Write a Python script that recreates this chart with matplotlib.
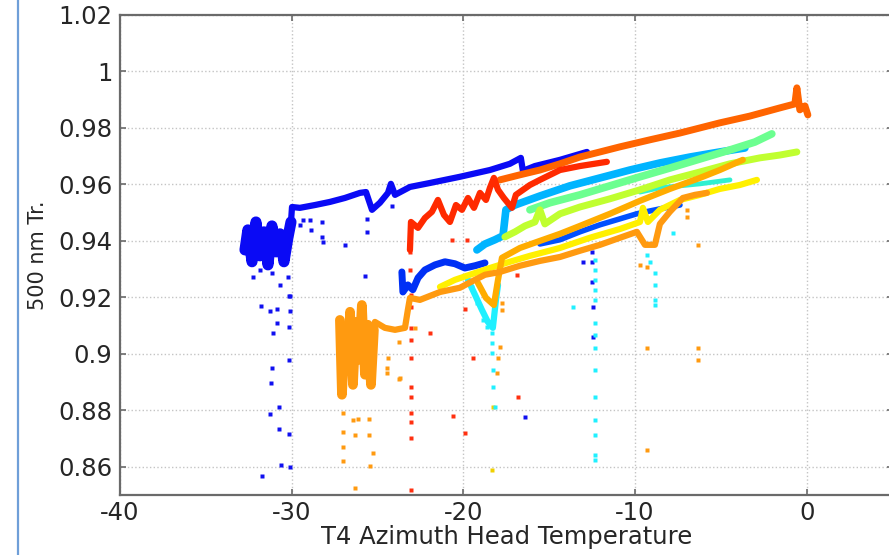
import matplotlib
matplotlib.use("Agg")
import matplotlib.pyplot as plt
from matplotlib.lines import Line2D

plt.rcParams['font.family'] = 'DejaVu Sans'
plt.rcParams['axes.unicode_minus'] = False

# ---- tracks (temperature, 500 nm transmittance) ----
blue_blob_x = [-32.72, -32.55, -32.31, -32.08, -31.85, -31.61, -31.38, -31.15, -30.91, -30.68, -30.45, -30.22, -30.04]
blue_blob_y = [0.9368, 0.9439, 0.9326, 0.9467, 0.9347, 0.9432, 0.9315, 0.9453, 0.9361, 0.9425, 0.9326, 0.9411, 0.9467]

blue_top_x = [-30.04, -29.98, -29.52, -28.64, -27.77, -26.90, -26.02, -25.67, -25.32, -24.86, -24.39, -24.22, -23.98,
              -23.11, -21.95, -20.20, -18.45, -17.29, -16.65, -16.53, -15.83, -14.37, -12.80]
blue_top_y = [0.9467, 0.9520, 0.9517, 0.9527, 0.9538, 0.9552, 0.9570, 0.9573, 0.9510, 0.9535, 0.9570, 0.9602, 0.9563,
              0.9591, 0.9605, 0.9627, 0.9651, 0.9673, 0.9694, 0.9648, 0.9665, 0.9687, 0.9715]

blue_low_x = [-23.58, -23.52, -23.23, -22.94, -22.64, -22.24, -21.65, -21.07, -20.49, -19.91, -19.32, -18.74]
blue_low_y = [0.9290, 0.9219, 0.9244, 0.9227, 0.9269, 0.9297, 0.9315, 0.9326, 0.9319, 0.9304, 0.9312, 0.9322]

blue_mid_x = [-15.54, -14.37, -13.21, -12.04, -10.88, -9.89, -9.13, -8.26, -7.38]
blue_mid_y = [0.9389, 0.9404, 0.9432, 0.9457, 0.9478, 0.9496, 0.9506, 0.9517, 0.9527]

lblue_x = [-19.21, -18.74, -18.16, -17.69, -17.52, -16.99, -15.54, -13.79, -12.04, -10.30, -8.55, -6.80, -5.06, -3.60]
lblue_y = [0.9368, 0.9389, 0.9404, 0.9418, 0.9510, 0.9527, 0.9559, 0.9595, 0.9623, 0.9651, 0.9676, 0.9697, 0.9715, 0.9729]

cyan_x = [-19.73, -19.32, -18.92, -18.57, -18.28, -18.10, -17.98]
cyan_y = [0.9262, 0.9209, 0.9156, 0.9113, 0.9092, 0.9191, 0.9244]

aqua_x = [-9.71, -8.55, -7.38, -6.22, -4.47]
aqua_y = [0.9573, 0.9588, 0.9595, 0.9602, 0.9616]

green_x = [-16.12, -14.96, -13.21, -11.46, -9.71, -7.97, -6.22, -4.47, -3.02, -2.03]
green_y = [0.9510, 0.9535, 0.9563, 0.9595, 0.9627, 0.9658, 0.9690, 0.9722, 0.9750, 0.9779]

ygreen_x = [-17.58, -16.99, -16.41, -15.83, -15.54, -15.25, -14.37, -13.21, -11.46, -9.71, -7.97, -6.22, -4.47,
            -2.73, -1.56, -0.57]
ygreen_y = [0.9414, 0.9432, 0.9453, 0.9467, 0.9510, 0.9460, 0.9496, 0.9520, 0.9549, 0.9581, 0.9616, 0.9644, 0.9673,
            0.9694, 0.9704, 0.9715]

yellow_x = [-21.36, -20.49, -19.62, -18.45, -17.29, -16.12, -14.37, -12.63, -10.88, -9.71, -9.54, -9.25, -8.55,
            -7.38, -6.22, -5.06, -3.89, -2.90]
yellow_y = [0.9237, 0.9262, 0.9280, 0.9304, 0.9326, 0.9347, 0.9375, 0.9411, 0.9442, 0.9467, 0.9517, 0.9467, 0.9510,
            0.9545, 0.9563, 0.9584, 0.9598, 0.9616]

lorange_x = [-19.15, -18.68, -18.22, -17.98, -17.75, -16.70, -15.54, -14.37, -13.21, -11.46, -9.71, -7.97, -6.22,
             -5.06, -3.72]
lorange_y = [0.9251, 0.9198, 0.9173, 0.9262, 0.9340, 0.9375, 0.9400, 0.9425, 0.9453, 0.9496, 0.9542, 0.9584, 0.9623,
             0.9651, 0.9687]

orange_blob_x = [-27.19, -27.07, -26.90, -26.72, -26.60, -26.43, -26.26, -26.08, -25.91, -25.73, -25.56, -25.38, -25.21]
orange_blob_y = [0.9120, 0.8855, 0.9085, 0.8943, 0.9149, 0.8890, 0.9113, 0.8979, 0.9173, 0.8926, 0.9103, 0.8890, 0.9085]

orange_x = [-25.21, -25.15, -24.57, -23.98, -23.40, -23.23, -23.11, -22.53, -21.36, -20.20, -19.32, -18.74,
            -17.87, -16.70, -15.54, -14.37, -13.21, -12.04, -10.88, -9.89, -9.42, -8.84, -8.55, -7.97, -7.21, -6.51, -5.81]
orange_y = [0.9085, 0.9113, 0.9092, 0.9085, 0.9092, 0.9156, 0.9198, 0.9191, 0.9219, 0.9234, 0.9262, 0.9280,
            0.9290, 0.9312, 0.9329, 0.9343, 0.9365, 0.9386, 0.9411, 0.9432, 0.9386, 0.9386, 0.9460, 0.9503, 0.9552,
            0.9563, 0.9570]

ored_x = [-17.87, -16.70, -15.54, -14.37, -13.21, -12.04, -10.88, -9.13, -7.38, -6.22, -5.06, -3.31, -1.56, -0.69,
          -0.57, -0.40, -0.10, 0.07]
ored_y = [0.9616, 0.9634, 0.9651, 0.9673, 0.9697, 0.9715, 0.9733, 0.9758, 0.9782, 0.9800, 0.9818, 0.9842, 0.9871,
          0.9885, 0.9942, 0.9864, 0.9878, 0.9846]

red_x = [-23.11, -23.05, -22.64, -22.24, -21.83, -21.48, -21.13, -20.78, -20.43, -20.08, -19.73, -19.38, -19.03,
         -18.68, -18.45, -18.22, -17.98, -17.64, -17.17, -16.94, -16.12, -15.54, -14.37, -13.21, -11.64]
red_y = [0.9368, 0.9467, 0.9446, 0.9481, 0.9503, 0.9545, 0.9492, 0.9467, 0.9527, 0.9510, 0.9552, 0.9517, 0.9570,
         0.9545, 0.9588, 0.9623, 0.9581, 0.9552, 0.9517, 0.9563, 0.9598, 0.9616, 0.9651, 0.9665, 0.9680]

# ---- stray samples ----
blue_pts_x = [-31.79, -31.26, -30.86, -30.10, -30.86, -31.09, -30.16, -30.16, -30.16, -31.15, -31.21, -30.74, -31.26,
              -30.74, -30.16, -30.62, -30.10, -31.73, -25.73, -25.73, -16.41, -29.34, -28.93, -29.52, -28.24, -28.88,
              -28.24, -28.18, -26.90, -25.61, -25.61, -24.16, -32.25, -31.85, -31.15, -30.68, -30.22, -30.10,
              -12.51, -12.51, -12.51, -12.45, -12.45, -13.03]
blue_pts_y = [0.9170, 0.9152, 0.9159, 0.9152, 0.9110, 0.9074, 0.9096, 0.9205, 0.8979, 0.8950, 0.8897, 0.8812, 0.8788,
              0.8735, 0.8717, 0.8607, 0.8600, 0.8568, 0.9000, 0.9276, 0.8777, 0.9474, 0.9474, 0.9457, 0.9467, 0.9439,
              0.9414, 0.9396, 0.9386, 0.9478, 0.9432, 0.9524, 0.9273, 0.9297, 0.9287, 0.9244, 0.9273, 0.9205,
              0.9361, 0.9326, 0.9255, 0.9166, 0.9060, 0.9326]

red_pts_x = [-23.11, -23.11, -23.11, -23.05, -23.05, -23.05, -23.05, -23.05, -23.05, -23.05, -23.05, -23.05, -23.05,
             -23.05, -21.95, -20.66, -19.79, -19.44, -19.91, -20.61, -19.91, -16.82, -16.88]
red_pts_y = [0.9386, 0.9361, 0.9297, 0.9209, 0.9166, 0.9092, 0.9050, 0.8986, 0.8883, 0.8848, 0.8791, 0.8759, 0.8703,
             0.8519, 0.9074, 0.9404, 0.9404, 0.8986, 0.9159, 0.8781, 0.8720, 0.8848, 0.9280]

orange_pts_x = [-27.01, -26.43, -26.14, -25.50, -27.01, -26.31, -25.50, -27.01, -25.26, -27.01, -25.44, -26.31,
                -24.39, -24.45, -24.45, -23.75, -23.75, -22.82, -23.69, -17.87, -17.98, -18.04, -17.75, -17.75,
                -9.31, -9.31, -9.71, -9.31, -6.34, -6.34, -6.98, -6.98, -6.34]
orange_pts_y = [0.8791, 0.8766, 0.8770, 0.8770, 0.8724, 0.8713, 0.8713, 0.8671, 0.8650, 0.8621, 0.8604, 0.8526,
                0.8986, 0.8950, 0.8933, 0.8912, 0.9042, 0.9092, 0.8915, 0.9025, 0.8986, 0.8933, 0.9181, 0.9156,
                0.9021, 0.8660, 0.9315, 0.9308, 0.9021, 0.8979, 0.9510, 0.9485, 0.9386]

yellow_pts_x = [-18.28, -18.33]
yellow_pts_y = [0.8812, 0.8589]

cyan_pts_x = [-19.50, -19.21, -18.86, -18.63, -18.33, -18.33, -18.33, -18.28, -18.28, -18.16,
              -12.34, -12.34, -12.34, -12.34, -12.34, -12.34, -12.34, -12.34, -12.34, -12.34, -12.34, -12.34,
              -12.34, -12.34, -13.62, -8.84, -8.84, -8.84, -8.84, -9.31, -9.13, -7.79]
cyan_pts_y = [0.9237, 0.9181, 0.9120, 0.9096, 0.9074, 0.9039, 0.9004, 0.8943, 0.8883, 0.8812,
              0.9333, 0.9297, 0.9262, 0.9227, 0.9191, 0.9110, 0.9067, 0.9021, 0.8943, 0.8848, 0.8766, 0.8713,
              0.8642, 0.8625, 0.9166, 0.9287, 0.9244, 0.9191, 0.9173, 0.9350, 0.9326, 0.9428]

x_ticks = [-40, -30, -20, -10, 0]
x_ticklabels = ['-40', '-30', '-20', '-10', '0']
y_ticks = [0.86, 0.88, 0.90, 0.92, 0.94, 0.96, 0.98, 1.00, 1.02]
y_ticklabels = ['0.86', '0.88', '0.9', '0.92', '0.94', '0.96', '0.98', '1', '1.02']

fig = plt.figure(figsize=(8.89, 5.55), dpi=100)
ax = fig.add_axes([120 / 889, 60 / 555, 772.5 / 889, 480 / 555])

# strip on the left of the slide
fig.add_artist(Line2D([18 / 889, 18 / 889], [0, 1], transform=fig.transFigure, color='#6f9fd8', lw=1.6))

bands = [
    (blue_blob_x, blue_blob_y, '#0a0af5', 8.0),
    (blue_top_x, blue_top_y, '#0a0af5', 4.5),
    (blue_low_x, blue_low_y, '#0030f5', 5.0),
    (blue_mid_x, blue_mid_y, '#0050ff', 4.0),
    (lblue_x, lblue_y, '#00b4ff', 5.5),
    (cyan_x, cyan_y, '#20f0ff', 4.5),
    (aqua_x, aqua_y, '#30f0d0', 3.5),
    (green_x, green_y, '#6cff90', 5.5),
    (ygreen_x, ygreen_y, '#c0ff30', 5.0),
    (yellow_x, yellow_y, '#fff000', 4.5),
    (lorange_x, lorange_y, '#ffac00', 4.5),
    (orange_blob_x, orange_blob_y, '#ff9a10', 7.0),
    (orange_x, orange_y, '#ff9a10', 4.5),
    (ored_x, ored_y, '#ff6400', 5.0),
    (red_x, red_y, '#ff2a00', 4.5),
]
for xs, ys, c, lw in bands:
    ax.plot(xs, ys, color=c, lw=lw, solid_joinstyle='round', solid_capstyle='round', zorder=3)

strays = [
    (blue_pts_x, blue_pts_y, '#1010f0'),
    (red_pts_x, red_pts_y, '#ff3010'),
    (orange_pts_x, orange_pts_y, '#ff9a10'),
    (yellow_pts_x, yellow_pts_y, '#f0d000'),
    (cyan_pts_x, cyan_pts_y, '#20f0ff'),
]
for xs, ys, c in strays:
    ax.plot(xs, ys, 's', ms=2.4, color=c, mec='none', zorder=2)

ax.set_xlim(-40, 5)
ax.set_ylim(0.85, 1.02)
ax.set_xticks(x_ticks)
ax.set_xticklabels(x_ticklabels)
ax.set_yticks(y_ticks)
ax.set_yticklabels(y_ticklabels)

ax.grid(True, ls=':', color='#c4c4c4', lw=1.0, zorder=0)
ax.set_axisbelow(True)
for s in ax.spines.values():
    s.set_color('#6a6a6a')
    s.set_linewidth(1.6)
ax.tick_params(direction='in', length=4, width=1.2, color='#6a6a6a', top=True, right=True,
               labelsize=17.5, labelcolor='#262626')
ax.tick_params(axis='y', pad=5.5)
ax.tick_params(axis='x', pad=4.5)

ax.set_xlabel('T4 Azimuth Head Temperature', fontsize=17.5, color='#262626', labelpad=0)
ax.set_ylabel('500 nm Tr.', fontsize=15, color='#262626')
ax.yaxis.set_label_coords(-0.093, 0.5)

fig.savefig('out.png', dpi=100)
